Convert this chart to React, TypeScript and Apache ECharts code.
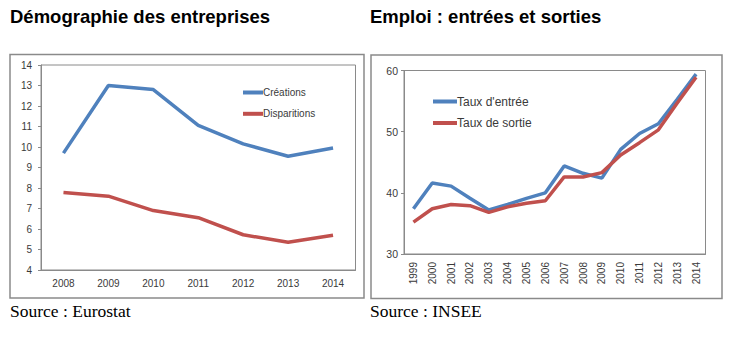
import React, { useEffect, useRef } from "react";
import * as echarts from "echarts";

const leftYears = ["2008", "2009", "2010", "2011", "2012", "2013", "2014"];
const creations = [9.7, 13.0, 12.8, 11.05, 10.15, 9.55, 9.95];
const disparitions = [7.78, 7.6, 6.9, 6.55, 5.72, 5.35, 5.7];

const rightYears = [
  "1999", "2000", "2001", "2002", "2003", "2004", "2005", "2006",
  "2007", "2008", "2009", "2010", "2011", "2012", "2013", "2014",
];
const tauxEntree = [37.4, 41.6, 41.1, 39.1, 37.2, 38.1, 39.1, 40.0, 44.4, 43.2, 42.4, 47.1, 49.7, 51.3, 55.3, 59.4];
const tauxSortie = [35.2, 37.4, 38.1, 37.9, 36.8, 37.7, 38.3, 38.7, 42.6, 42.6, 43.3, 46.2, 48.2, 50.3, 54.7, 58.9];

const titleLeft = "Démographie des entreprises";
const titleRight = "Emploi : entrées et sorties";
const sourceLeft = "Source : Eurostat";
const sourceRight = "Source : INSEE";

const BLUE = "#4f81bd";
const RED = "#c0504d";
const GRAY = "#8a8a8a";
const LABEL = "#3a3a3a";
const SANS = '"Liberation Sans", Arial, sans-serif';
const SERIF = '"Liberation Serif", "Times New Roman", serif';

export default function App() {
  const ref = useRef<HTMLDivElement>(null);
  useEffect(() => {
    if (!ref.current) return;
    const chart = echarts.init(ref.current, undefined, { renderer: "svg" });
    chart.setOption({
      animation: false,
      backgroundColor: "#ffffff",
      textStyle: { fontFamily: SANS },
      grid: [
        { left: 41, top: 65, width: 314.5, height: 205, show: true, borderColor: GRAY, borderWidth: 1, containLabel: false },
        { left: 404, top: 70.5, width: 301.5, height: 183.5, show: true, borderColor: GRAY, borderWidth: 1, containLabel: false },
      ],
      xAxis: [
        {
          type: "category", gridIndex: 0, data: leftYears, boundaryGap: true,
          axisLine: { lineStyle: { color: GRAY } },
          axisTick: { length: 3, lineStyle: { color: GRAY } },
          axisLabel: { color: LABEL, fontSize: 10, margin: 8, fontFamily: SANS },
        },
        {
          type: "category", gridIndex: 1, data: rightYears, boundaryGap: true,
          axisLine: { lineStyle: { color: GRAY } },
          axisTick: { length: 3, lineStyle: { color: GRAY } },
          axisLabel: { color: LABEL, fontSize: 10, margin: 8, rotate: 90, fontFamily: SANS },
        },
      ],
      yAxis: [
        {
          type: "value", gridIndex: 0, min: 4, max: 14, interval: 1,
          axisLine: { show: true, lineStyle: { color: GRAY } },
          axisTick: { show: true, length: 3, lineStyle: { color: GRAY } },
          splitLine: { show: false },
          axisLabel: { color: LABEL, fontSize: 10, margin: 9, fontFamily: SANS },
        },
        {
          type: "value", gridIndex: 1, min: 30, max: 60, interval: 10,
          axisLine: { show: true, lineStyle: { color: GRAY } },
          axisTick: { show: true, length: 3, lineStyle: { color: GRAY } },
          splitLine: { show: false },
          axisLabel: { color: LABEL, fontSize: 10.5, margin: 6, fontFamily: SANS },
        },
      ],
      legend: [
        {
          data: ["Créations", "Disparitions"], left: 243, top: 87.5, orient: "vertical", padding: 0,
          icon: "rect", itemWidth: 20, itemHeight: 4, itemGap: 11.3, selectedMode: false,
          textStyle: { fontSize: 10, color: LABEL, padding: [0, 0, 0, -5], fontFamily: SANS },
        },
        {
          data: ["Taux d'entrée", "Taux de sortie"], left: 433, top: 95.5, orient: "vertical", padding: 0,
          icon: "rect", itemWidth: 24, itemHeight: 4, itemGap: 9.5, selectedMode: false,
          textStyle: { fontSize: 12, color: LABEL, padding: [0, 0, 0, -5], fontFamily: SANS },
        },
      ],
      series: [
        { name: "Créations", type: "line", xAxisIndex: 0, yAxisIndex: 0, data: creations, symbol: "none", lineStyle: { color: BLUE, width: 3.5 }, itemStyle: { color: BLUE } },
        { name: "Disparitions", type: "line", xAxisIndex: 0, yAxisIndex: 0, data: disparitions, symbol: "none", lineStyle: { color: RED, width: 3.5 }, itemStyle: { color: RED } },
        { name: "Taux d'entrée", type: "line", xAxisIndex: 1, yAxisIndex: 1, data: tauxEntree, symbol: "none", lineStyle: { color: BLUE, width: 3.5 }, itemStyle: { color: BLUE } },
        { name: "Taux de sortie", type: "line", xAxisIndex: 1, yAxisIndex: 1, data: tauxSortie, symbol: "none", lineStyle: { color: RED, width: 3.5 }, itemStyle: { color: RED } },
      ],
      graphic: [
        { type: "rect", shape: { x: 10, y: 54.5, width: 354, height: 243.5 }, style: { fill: "none", stroke: GRAY, lineWidth: 1.5 }, silent: true },
        { type: "rect", shape: { x: 371, y: 55, width: 351, height: 243.5 }, style: { fill: "none", stroke: GRAY, lineWidth: 1.5 }, silent: true },
        { type: "text", x: 10, y: 16.5, style: { text: titleLeft, font: `bold 18.5px ${SANS}`, fill: "#000", verticalAlign: "middle" } },
        { type: "text", x: 370, y: 16.5, style: { text: titleRight, font: `bold 18.5px ${SANS}`, fill: "#000", verticalAlign: "middle" } },
        { type: "text", x: 10, y: 311, style: { text: sourceLeft, font: `17.5px ${SERIF}`, fill: "#000", verticalAlign: "middle" } },
        { type: "text", x: 370, y: 311, style: { text: sourceRight, font: `17.5px ${SERIF}`, fill: "#000", verticalAlign: "middle" } },
      ],
    });
    return () => chart.dispose();
  }, []);
  return (
    <div
      ref={ref}
      style={{ position: "fixed", left: 0, top: 0, width: 733, height: 337, background: "#fff" }}
    />
  );
}
